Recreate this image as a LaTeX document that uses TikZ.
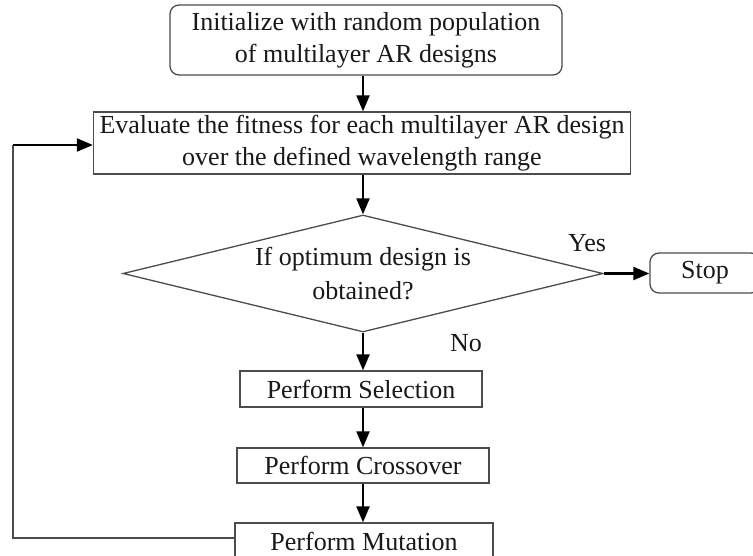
\documentclass[tikz,border=0pt]{standalone}
\usepackage{fontspec}
\setmainfont{Liberation Serif}
\usetikzlibrary{shapes.geometric,arrows.meta}
\begin{document}
\begin{tikzpicture}[x=1pt,y=-1pt,
  every node/.style={font=\fontsize{26}{32}\selectfont, text=black!90, align=center, inner sep=0pt},
  boxline/.style={draw=black!70, line width=1.3pt},
  roundbox/.style={boxline, rounded corners=9pt},
  plainbox/.style={boxline},
  flow/.style={draw=black, line width=2.2pt, -{Triangle[length=16pt,width=13pt]}},
  lbl/.style={font=\fontsize{26}{32}\selectfont}
]
\clip (0,0) rectangle (753,556);
\useasboundingbox (0,0) rectangle (753,556);
\fill[white] (0,0) rectangle (753,556);

\node[roundbox, minimum width=392pt, minimum height=70pt] (init) at (366,40)
  {Initialize with random population\\of multilayer AR designs};
\node[plainbox, minimum width=537pt, minimum height=62pt] (eval) at (362,143)
  {Evaluate the fitness for each multilayer AR design\\over the defined wavelength range};
\node[diamond, boxline, minimum width=480pt, minimum height=117pt, shape aspect=4.1] (dec) at (363,273.5)
  {If optimum design is\\[2pt]obtained?};
\node[roundbox, minimum width=110pt, minimum height=40pt] (stop) at (705,273) {Stop};
\node[plainbox, minimum width=242pt, minimum height=36pt] (sel) at (361,389) {Perform Selection};
\node[plainbox, minimum width=252pt, minimum height=35pt] (cross) at (363,465.5) {Perform Crossover};
\node[plainbox, minimum width=258pt, minimum height=36pt] (mut) at (364,541) {Perform Mutation};

\node[lbl] (yes) at (587,243) {Yes};
\node[lbl] (no) at (466,343) {No};

\coordinate (fbA) at (13,538);
\coordinate (fbB) at (13,145);

\draw[flow] (363,0 |- init.south) -- (363,0 |- eval.north);
\draw[flow] (363,0 |- eval.south) -- (dec.north);
\draw[flow] (dec.south) -- (363,0 |- sel.north);
\draw[flow] (363,0 |- sel.south) -- (363,0 |- cross.north);
\draw[flow] (363,0 |- cross.south) -- (363,0 |- mut.north);
\draw[flow] (dec.east) -- (stop.west |- dec.east);
\draw[draw=black!70, line width=1.6pt] (mut.west |- fbA) -- (fbA) -- (fbB);
\draw[flow] (fbB) -- (eval.west |- fbB);
\end{tikzpicture}
\end{document}
